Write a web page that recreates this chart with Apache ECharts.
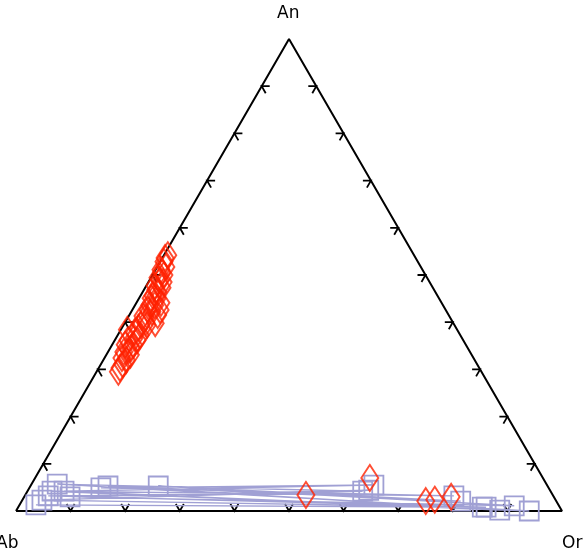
<!DOCTYPE html>
<html>
<head>
<meta charset="utf-8">
<script src="https://cdn.jsdelivr.net/npm/echarts@6/dist/echarts.min.js"></script>
<style>
  html, body { margin: 0; padding: 0; background: #fff; }
  #chart { width: 586px; height: 548px; }
</style>
</head>
<body>
<div id="chart"></div>
<script>
// feldspar compositions in mol %, Ab = 100 - An - Or
var redAn = [30.3, 32.0, 33.7, 33.1, 35.2, 36.2, 36.2, 37.9, 37.3, 39.4, 39.4, 40.9, 39.8, 42.2, 42.6,
  43.6, 44.1, 45.1, 45.1, 46.4, 47.3, 47.7, 48.5, 49.4, 50.0, 51.1, 51.7, 52.8, 54.2, 38.4, 34.5, 32.4,
  31.1, 34.1, 36.7, 38.8, 41.3, 40.0, 43.6, 45.6, 46.8, 48.9, 50.6, 53.6, 35.2, 29.5, 42.6, 41.5,
  3.4, 7.0, 2.1, 2.4, 3.0];
var redOr = [3.9, 4.2, 2.9, 4.4, 3.9, 2.4, 4.1, 2.8, 4.1, 3.2, 4.3, 3.2, 5.6, 3.8, 2.9,
  3.6, 4.5, 3.3, 2.2, 2.8, 3.1, 1.6, 2.7, 1.3, 2.1, 1.0, 1.6, 0.7, 0.7, 1.2, 3.8, 3.2,
  4.0, 3.6, 3.3, 3.0, 2.6, 3.8, 2.7, 2.3, 2.2, 1.9, 1.4, 0.5, 2.4, 4.0, 5.1, 5.2,
  51.4, 61.3, 74.0, 75.5, 78.2];

var blueAn = [1.3, 0.8, 3.2, 4.2, 5.7, 0.0, 4.2, 3.2, 4.9, 5.5, 4.2, 0.2, 5.3, 2.1, 5.3, 1.1, 3.0, 4.4, 2.3, 0.8];
var blueOr = [3.0, 85.7, 4.3, 61.4, 4.7, 94.0, 4.5, 78.6, 13.1, 62.8, 6.7, 88.5, 14.2, 80.4, 23.4, 90.7, 8.4, 62.4, 3.6, 85.0];

var tickValues = [10, 20, 30, 40, 50, 60, 70, 80, 90];
var apexLabels = ['An', 'Ab', 'Or'];

// ternary -> cartesian (x in 0..1 along the base, y = An fraction)
function project(an, or) {
  return [or / 100 + an / 200, an / 100];
}

var redData = redAn.map(function (an, i) { return project(an, redOr[i]); });
var blueData = blueAn.map(function (an, i) { return project(an, blueOr[i]); });
var frameData = [project(0, 0), project(0, 100), project(100, 0), project(0, 0)];

var tickData = [];
[0, 1, 2].forEach(function (side) {
  tickValues.forEach(function (v) { tickData.push([side, v]); });
});

var chart = echarts.init(document.getElementById('chart'));

var labelText = { fontSize: 17, fontWeight: 'normal', fontFamily: 'DejaVu Sans', color: '#000' };

var option = {
  animation: false,
  title: [
    { text: apexLabels[0], left: 277, top: 5, padding: 0, textStyle: labelText },
    { text: apexLabels[1], left: -4, top: 535, padding: 0, textStyle: labelText },
    { text: apexLabels[2], left: 562, top: 535, padding: 0, textStyle: labelText }
  ],
  grid: { left: 16, right: 24, top: 39, bottom: 37 },
  xAxis: { type: 'value', min: 0, max: 1, show: false },
  yAxis: { type: 'value', min: 0, max: 1, show: false },
  series: [
    {
      type: 'line',
      data: frameData,
      symbol: 'none',
      clip: false,
      lineStyle: { color: '#000', width: 2 },
      z: 1
    },
    {
      type: 'custom',
      data: tickData,
      clip: false,
      z: 2,
      renderItem: function (params, api) {
        var side = api.value(0);
        var t = api.value(1) / 100;
        var p, pts;
        if (side === 0) {
          p = api.coord([t / 2, t]);
          pts = [[p[0] + 8, p[1]], [p[0], p[1]], [p[0] + 4, p[1] + 7]];
        } else if (side === 1) {
          p = api.coord([1 - t / 2, t]);
          pts = [[p[0] - 8, p[1]], [p[0], p[1]], [p[0] - 4, p[1] + 7]];
        } else {
          p = api.coord([t, 0]);
          pts = [[p[0] - 4, p[1] - 7], [p[0], p[1]], [p[0] + 4, p[1] - 7]];
        }
        return {
          type: 'polyline',
          shape: { points: pts },
          style: { stroke: '#000', lineWidth: 1.8, fill: null }
        };
      }
    },
    {
      type: 'line',
      data: blueData,
      symbol: 'rect',
      symbolSize: 19,
      showAllSymbol: true,
      clip: false,
      itemStyle: { color: 'rgba(0,0,0,0)', borderColor: '#a0a0d4', borderWidth: 1.8 },
      lineStyle: { color: '#a0a0d4', width: 1.4 },
      z: 3
    },
    {
      type: 'scatter',
      data: redData,
      symbol: 'diamond',
      symbolSize: [17, 26],
      clip: false,
      itemStyle: { color: 'rgba(0,0,0,0)', borderColor: '#ff2200', borderWidth: 2 },
      z: 4
    }
  ]
};

chart.setOption(option);
</script>
</body>
</html>
